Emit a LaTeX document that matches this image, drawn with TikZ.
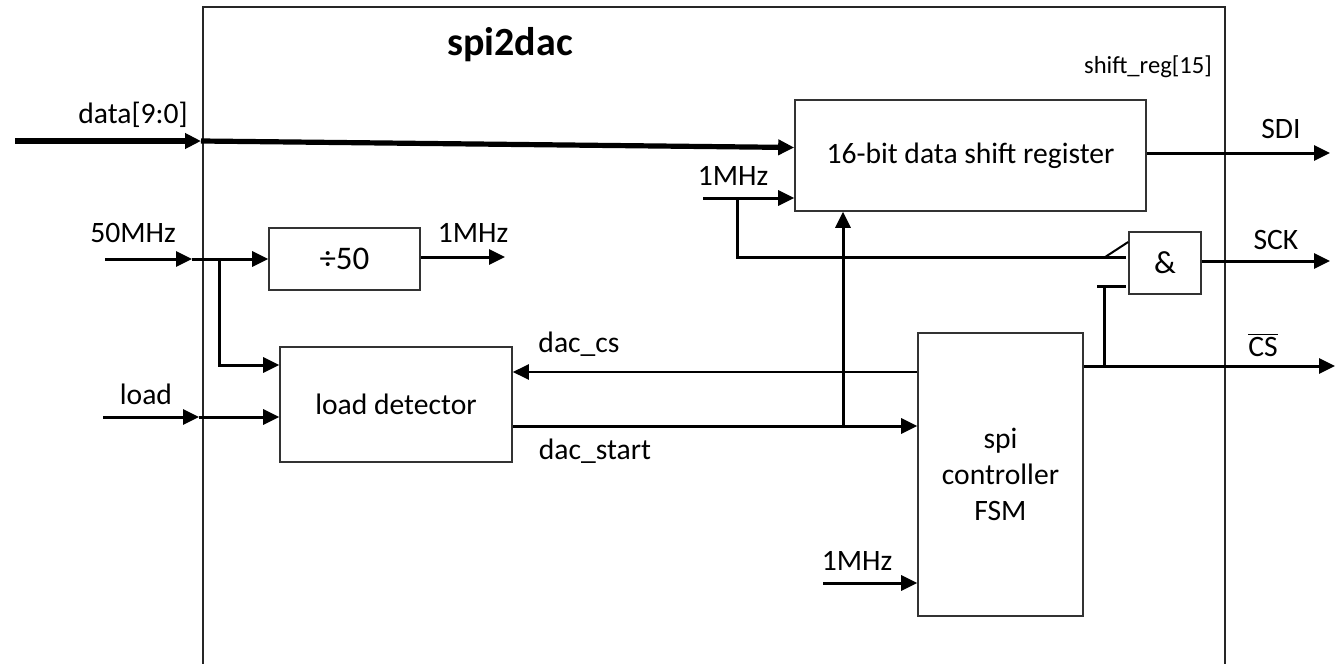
\documentclass[tikz,border=0pt]{standalone}
\usepackage{fontspec}
\setmainfont{Carlito}
\usetikzlibrary{arrows.meta,positioning}

\begin{document}
\begin{tikzpicture}[x=0.5pt,y=-0.5pt,>={Triangle[length=8pt,width=7.5pt]}]
\tikzstyle{blk}=[draw=black!80,line width=0.8pt,inner sep=0pt,align=center,font=\fontsize{14.8}{18}\selectfont]
\tikzstyle{lbl}=[inner sep=0pt,font=\fontsize{14.8}{18}\selectfont]
\tikzstyle{sig}=[line width=1.5pt]
\tikzstyle{bus}=[line width=2.6pt]
\useasboundingbox (0,0) rectangle (1341,664);
% spi2dac frame
\draw[line width=0.75pt,black!85] (203,672) -- (203,7) -- (1225,7) -- (1225,672);
\node[font=\bfseries\fontsize{20}{24}\selectfont] (title) at (510,45) {spi2dac};
\node[lbl,font=\fontsize{12.3}{14}\selectfont] (msb) at (1148,67) {shift\_reg[15]};

% blocks
\node[blk,minimum width=175.5pt,minimum height=55.5pt] (reg) at (970.5,155.5) {16-bit data shift register};
\node[blk,minimum width=75.5pt,minimum height=31pt,font=\fontsize{16.5}{18}\selectfont] (div) at (344.5,259) {÷50};
\node[blk,minimum width=116pt,minimum height=57.5pt] (det) at (396,404.5) {load detector};
\node[blk,minimum width=82.5pt,minimum height=141.5pt] (fsm) at (1000.5,474.5) {spi\\controller\\FSM};
\node[blk,minimum width=36pt,minimum height=31pt,font=\fontsize{16}{18}\selectfont] (andg) at (1165,263) {\&};

% inputs
\node[lbl] (datal) at (133,115) {data[9:0]};
\node[lbl] (clkl) at (133,233) {50MHz};
\node[lbl] (loadl) at (146,394) {load};
\coordinate (datain) at (15,141);
\coordinate (datab) at (201,141);
\draw[bus,->] (datain) -- (datab);
\draw[bus,->] (datab) -- ([yshift=4pt]reg.west);
\coordinate (clkin) at (105,259);
\coordinate (clkb) at (192,259);
\draw[sig,->] (clkin) -- (clkb);
\draw[sig,->] (clkb) -- (div.west);
\coordinate (clkj) at (219,259);
\draw[sig,->] (clkj) |- ([yshift=19.75pt]det.west);
\coordinate (loadin) at (103,417);
\coordinate (loadb) at (199,417);
\draw[sig,->] (loadin) -- (loadb);
\draw[sig,->] (loadb) -- (loadb -| det.west);

% divider output
\node[lbl] (divl) at (473,233) {1MHz};
\coordinate (divout) at (505,257);
\draw[sig,->] (div.east |- divout) -- (divout);

% load detector <-> fsm
\node[lbl] (csl) at (579,344) {dac\_cs};
\node[lbl] (startl) at (595,451) {dac\_start};
\draw[line width=1.2pt,<-] ([yshift=16.25pt]det.east) -- ([yshift=16.25pt]det.east -| fsm.west);
\draw[sig,->] ([yshift=-10.75pt]det.east) -- ([yshift=-10.75pt]det.east -| fsm.west);
\coordinate (startj) at (843,426);
\draw[sig,->] (startj) -- (startj |- reg.south);

% clocks
\node[lbl] (regclkl) at (733,176) {1MHz};
\coordinate (regclk) at (703,198);
\draw[sig,->] (regclk) -- (regclk -| reg.west);
\coordinate (regclkj) at (737,198);
\draw[sig] (regclkj) |- ([xshift=-1pt,yshift=3pt]andg.west);
\draw[line width=1pt] ([xshift=-11.5pt,yshift=3pt]andg.west) -- ([yshift=10.5pt]andg.west);
\node[lbl] (fsmclkl) at (857,561) {1MHz};
\coordinate (fsmclk) at (823,583);
\draw[sig,->] (fsmclk) -- (fsmclk -| fsm.west);

% outputs
\node[lbl] (sdil) at (1281,129) {SDI};
\node[lbl] (sckl) at (1276,240) {SCK};
\node[lbl] (ncsl) at (1263,345) {$\overline{\hbox{CS}}$};
\coordinate (sdiout) at (1330,153);
\draw[sig,->] (reg.east |- sdiout) -- (sdiout);
\coordinate (sckout) at (1330,261);
\draw[sig,->] (andg.east |- sckout) -- (sckout);
\coordinate (csout) at (1335,366);
\draw[sig,->] (fsm.east |- csout) -- (csout);
\coordinate (andin) at ([yshift=-11.5pt]andg.west);
\draw[sig] ([xshift=-15.5pt]andin) -- ([xshift=-1pt]andin);
\coordinate (csj) at (1104,366);
\draw[sig] (csj) -- (csj |- andin);
\end{tikzpicture}
\end{document}
